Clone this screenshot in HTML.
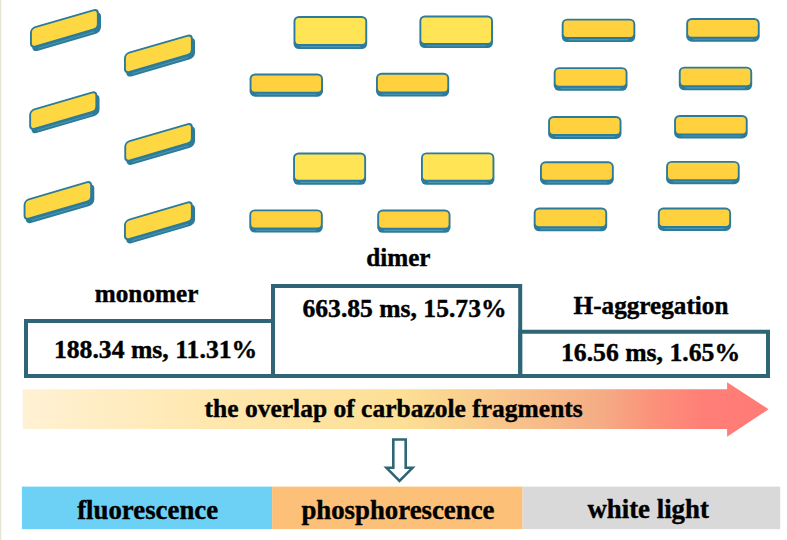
<!DOCTYPE html>
<html><head><meta charset="utf-8">
<style>
html,body{margin:0;padding:0;background:#fff;}
body{width:787px;height:540px;overflow:hidden;position:relative;}
svg{position:absolute;left:0;top:0;}
text{font-family:"Liberation Serif",serif;font-weight:bold;fill:#000;stroke:#000;stroke-width:0.4px;}
</style></head><body>
<svg width="787" height="540" viewBox="0 0 787 540">
<defs>
<linearGradient id="ag" x1="22.7" y1="0" x2="768.6" y2="0" gradientUnits="userSpaceOnUse">
<stop offset="0" stop-color="#fff1d4"/>
<stop offset="0.24" stop-color="#ffe8b0"/>
<stop offset="0.51" stop-color="#fddf95"/>
<stop offset="0.58" stop-color="#fad28e"/>
<stop offset="0.78" stop-color="#f5ab84"/>
<stop offset="0.84" stop-color="#fb937a"/>
<stop offset="0.91" stop-color="#ff7f77"/>
<stop offset="1" stop-color="#ff7b76"/>
</linearGradient>
</defs>
<rect x="0" y="0" width="1" height="540" fill="#e7e4d1"/><rect x="1" y="0" width="1" height="540" fill="#f7f6ef"/>
<g transform="translate(30.00,27.80) skewY(-16.3)">
<rect x="0" y="0" width="68.80" height="21.20" rx="5" fill="#2d7b9a"/>
<rect x="2.2" y="4.0" width="68.80" height="21.20" rx="5" fill="#2d7b9a"/>
<line x1="8" y1="22.70" x2="64.00" y2="22.70" stroke="#4b98b5" stroke-width="1.0"/>
<rect x="1.90" y="1.90" width="65.00" height="17.40" rx="3.5" fill="#fdd843"/>
</g>
<g transform="translate(124.00,53.30) skewY(-16.3)">
<rect x="0" y="0" width="68.80" height="21.20" rx="5" fill="#2d7b9a"/>
<rect x="2.2" y="4.0" width="68.80" height="21.20" rx="5" fill="#2d7b9a"/>
<line x1="8" y1="22.70" x2="64.00" y2="22.70" stroke="#4b98b5" stroke-width="1.0"/>
<rect x="1.90" y="1.90" width="65.00" height="17.40" rx="3.5" fill="#fdd843"/>
</g>
<g transform="translate(29.20,110.00) skewY(-16.3)">
<rect x="0" y="0" width="68.10" height="21.20" rx="5" fill="#2d7b9a"/>
<rect x="2.2" y="4.0" width="68.10" height="21.20" rx="5" fill="#2d7b9a"/>
<line x1="8" y1="22.70" x2="63.30" y2="22.70" stroke="#4b98b5" stroke-width="1.0"/>
<rect x="1.90" y="1.90" width="64.30" height="17.40" rx="3.5" fill="#fdd843"/>
</g>
<g transform="translate(124.30,141.70) skewY(-16.3)">
<rect x="0" y="0" width="68.50" height="21.20" rx="5" fill="#2d7b9a"/>
<rect x="2.2" y="4.0" width="68.50" height="21.20" rx="5" fill="#2d7b9a"/>
<line x1="8" y1="22.70" x2="63.70" y2="22.70" stroke="#4b98b5" stroke-width="1.0"/>
<rect x="1.90" y="1.90" width="64.70" height="17.40" rx="3.5" fill="#fdd843"/>
</g>
<g transform="translate(23.60,199.90) skewY(-16.3)">
<rect x="0" y="0" width="68.50" height="21.20" rx="5" fill="#2d7b9a"/>
<rect x="2.2" y="4.0" width="68.50" height="21.20" rx="5" fill="#2d7b9a"/>
<line x1="8" y1="22.70" x2="63.70" y2="22.70" stroke="#4b98b5" stroke-width="1.0"/>
<rect x="1.90" y="1.90" width="64.70" height="17.40" rx="3.5" fill="#fdd843"/>
</g>
<g transform="translate(124.00,220.20) skewY(-16.3)">
<rect x="0" y="0" width="68.80" height="21.20" rx="5" fill="#2d7b9a"/>
<rect x="2.2" y="4.0" width="68.80" height="21.20" rx="5" fill="#2d7b9a"/>
<line x1="8" y1="22.70" x2="64.00" y2="22.70" stroke="#4b98b5" stroke-width="1.0"/>
<rect x="1.90" y="1.90" width="65.00" height="17.40" rx="3.5" fill="#fdd843"/>
</g>
<rect x="293.50" y="16.00" width="73.70" height="33.00" rx="5.5" fill="#2d7b9a"/>
<line x1="300.50" y1="46.60" x2="360.20" y2="46.60" stroke="#4b98b5" stroke-width="1.1"/>
<rect x="295.40" y="17.90" width="69.90" height="26.10" rx="3.5" fill="#ffe556"/>
<rect x="419.40" y="15.50" width="73.60" height="32.60" rx="5.5" fill="#2d7b9a"/>
<line x1="426.40" y1="45.70" x2="486.00" y2="45.70" stroke="#4b98b5" stroke-width="1.1"/>
<rect x="421.30" y="17.40" width="69.80" height="25.70" rx="3.5" fill="#ffe556"/>
<rect x="293.10" y="152.50" width="73.00" height="32.30" rx="5.5" fill="#2d7b9a"/>
<line x1="300.10" y1="182.40" x2="359.10" y2="182.40" stroke="#4b98b5" stroke-width="1.1"/>
<rect x="295.00" y="154.40" width="69.20" height="25.40" rx="3.5" fill="#ffe556"/>
<rect x="421.00" y="152.40" width="73.40" height="32.40" rx="5.5" fill="#2d7b9a"/>
<line x1="428.00" y1="182.40" x2="487.40" y2="182.40" stroke="#4b98b5" stroke-width="1.1"/>
<rect x="422.90" y="154.30" width="69.60" height="25.50" rx="3.5" fill="#ffe556"/>
<rect x="249.60" y="73.50" width="73.40" height="23.20" rx="5.5" fill="#2d7b9a"/>
<line x1="256.60" y1="94.30" x2="316.00" y2="94.30" stroke="#4b98b5" stroke-width="1.1"/>
<rect x="251.50" y="75.40" width="69.60" height="16.30" rx="3.5" fill="#ffd13f"/>
<rect x="376.00" y="72.80" width="73.20" height="23.80" rx="5.5" fill="#2d7b9a"/>
<line x1="383.00" y1="94.20" x2="442.20" y2="94.20" stroke="#4b98b5" stroke-width="1.1"/>
<rect x="377.90" y="74.70" width="69.40" height="16.90" rx="3.5" fill="#ffd13f"/>
<rect x="249.30" y="209.40" width="73.50" height="23.20" rx="5.5" fill="#2d7b9a"/>
<line x1="256.30" y1="230.20" x2="315.80" y2="230.20" stroke="#4b98b5" stroke-width="1.1"/>
<rect x="251.20" y="211.30" width="69.70" height="16.30" rx="3.5" fill="#ffd13f"/>
<rect x="377.20" y="209.60" width="73.30" height="23.20" rx="5.5" fill="#2d7b9a"/>
<line x1="384.20" y1="230.40" x2="443.50" y2="230.40" stroke="#4b98b5" stroke-width="1.1"/>
<rect x="379.10" y="211.50" width="69.50" height="16.30" rx="3.5" fill="#ffd13f"/>
<rect x="561.70" y="18.70" width="73.60" height="23.30" rx="5.5" fill="#2d7b9a"/>
<line x1="568.70" y1="39.60" x2="628.30" y2="39.60" stroke="#4b98b5" stroke-width="1.1"/>
<rect x="563.60" y="20.60" width="69.80" height="16.40" rx="3.5" fill="#ffd13f"/>
<rect x="553.70" y="67.20" width="73.80" height="23.60" rx="5.5" fill="#2d7b9a"/>
<line x1="560.70" y1="88.40" x2="620.50" y2="88.40" stroke="#4b98b5" stroke-width="1.1"/>
<rect x="555.60" y="69.10" width="70.00" height="16.70" rx="3.5" fill="#ffd13f"/>
<rect x="548.10" y="116.00" width="73.40" height="22.90" rx="5.5" fill="#2d7b9a"/>
<line x1="555.10" y1="136.50" x2="614.50" y2="136.50" stroke="#4b98b5" stroke-width="1.1"/>
<rect x="550.00" y="117.90" width="69.60" height="16.00" rx="3.5" fill="#ffd13f"/>
<rect x="540.00" y="161.30" width="73.80" height="23.40" rx="5.5" fill="#2d7b9a"/>
<line x1="547.00" y1="182.30" x2="606.80" y2="182.30" stroke="#4b98b5" stroke-width="1.1"/>
<rect x="541.90" y="163.20" width="70.00" height="16.50" rx="3.5" fill="#ffd13f"/>
<rect x="533.70" y="207.50" width="73.50" height="23.80" rx="5.5" fill="#2d7b9a"/>
<line x1="540.70" y1="228.90" x2="600.20" y2="228.90" stroke="#4b98b5" stroke-width="1.1"/>
<rect x="535.60" y="209.40" width="69.70" height="16.90" rx="3.5" fill="#ffd13f"/>
<rect x="686.20" y="18.00" width="73.50" height="23.70" rx="5.5" fill="#2d7b9a"/>
<line x1="693.20" y1="39.30" x2="752.70" y2="39.30" stroke="#4b98b5" stroke-width="1.1"/>
<rect x="688.10" y="19.90" width="69.70" height="16.80" rx="3.5" fill="#ffd13f"/>
<rect x="678.80" y="66.70" width="73.40" height="23.60" rx="5.5" fill="#2d7b9a"/>
<line x1="685.80" y1="87.90" x2="745.20" y2="87.90" stroke="#4b98b5" stroke-width="1.1"/>
<rect x="680.70" y="68.60" width="69.60" height="16.70" rx="3.5" fill="#ffd13f"/>
<rect x="674.10" y="115.00" width="73.60" height="23.40" rx="5.5" fill="#2d7b9a"/>
<line x1="681.10" y1="136.00" x2="740.70" y2="136.00" stroke="#4b98b5" stroke-width="1.1"/>
<rect x="676.00" y="116.90" width="69.80" height="16.50" rx="3.5" fill="#ffd13f"/>
<rect x="666.10" y="160.90" width="73.60" height="23.30" rx="5.5" fill="#2d7b9a"/>
<line x1="673.10" y1="181.80" x2="732.70" y2="181.80" stroke="#4b98b5" stroke-width="1.1"/>
<rect x="668.00" y="162.80" width="69.80" height="16.40" rx="3.5" fill="#ffd13f"/>
<rect x="657.80" y="207.60" width="73.30" height="23.30" rx="5.5" fill="#2d7b9a"/>
<line x1="664.80" y1="228.50" x2="724.10" y2="228.50" stroke="#4b98b5" stroke-width="1.1"/>
<rect x="659.70" y="209.50" width="69.50" height="16.40" rx="3.5" fill="#ffd13f"/>
<!-- boxes -->
<path d="M26,321 H273 V376 H26 Z" fill="none" stroke="#2e6677" stroke-width="4"/>
<path d="M273,286 H520.2 V376 H273 Z" fill="none" stroke="#2e6677" stroke-width="4"/>
<path d="M520.2,331.8 H768 V376 H520.2 Z" fill="none" stroke="#2e6677" stroke-width="4"/>
<!-- gradient arrow -->
<path d="M22.7,389.3 H727.1 V382.2 L768.6,409.3 L727.1,436.7 V429 H22.7 Z" fill="url(#ag)"/>
<!-- hollow down arrow -->
<path d="M393.3,439.5 H405.7 V467.8 H412.5 L399.5,481 L386.5,467.8 H393.3 Z" fill="#fff" stroke="#2e6677" stroke-width="2.6"/>
<!-- bottom bars -->
<rect x="21.9" y="486.6" width="250.2" height="42.5" fill="#6dd1f6"/>
<rect x="272.1" y="486.6" width="250.5" height="42.5" fill="#fdc078"/>
<rect x="522.6" y="486.6" width="257.6" height="42.5" fill="#d9d9d9"/>
<text x="94.8" y="302.2" font-size="25.2" text-anchor="start">monomer</text>
<text x="366.2" y="266" font-size="25.2" text-anchor="start">dimer</text>
<text x="573.6" y="314.3" font-size="25.2" text-anchor="start">H-aggregation</text>
<text x="53.9" y="357.9" font-size="25.7" text-anchor="start">188.34 ms, 11.31%</text>
<text x="302.5" y="317.0" font-size="25.6" text-anchor="start">663.85 ms, 15.73%</text>
<text x="561.0" y="361.2" font-size="25.7" text-anchor="start">16.56 ms, 1.65%</text>
<text x="204.6" y="416.5" font-size="25.5" text-anchor="start">the overlap of carbazole fragments</text>
<text x="77.2" y="519" font-size="26.8" text-anchor="start">fluorescence</text>
<text x="301.4" y="519" font-size="26.8" text-anchor="start">phosphorescence</text>
<text x="587.5" y="518.1" font-size="26.8" text-anchor="start">white light</text>
</svg>
</body></html>
